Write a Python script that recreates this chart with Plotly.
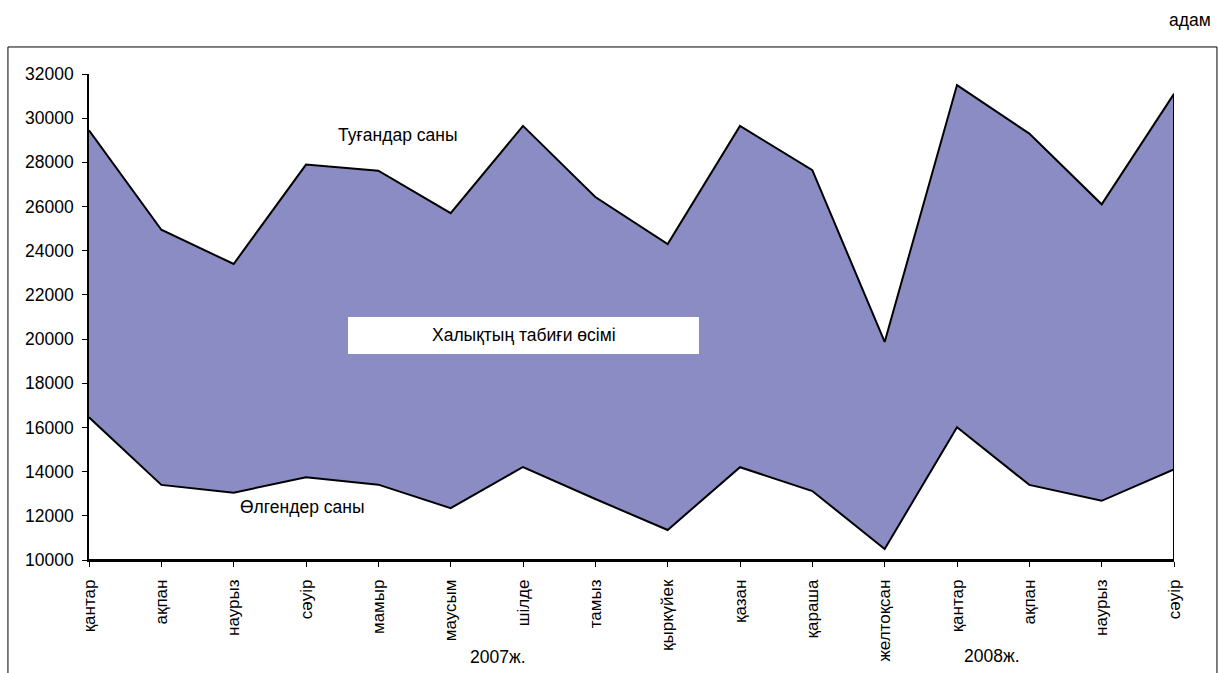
import plotly.graph_objects as go

months = ["қантар", "ақпан", "наурыз", "сәуір", "мамыр", "маусым", "шілде", "тамыз",
          "қыркүйек", "қазан", "қараша", "желтоқсан", "қантар", "ақпан", "наурыз", "сәуір"]
births = [29450, 24950, 23400, 27900, 27620, 25700, 29650, 26430,
          24300, 29650, 27650, 19870, 31500, 29300, 26100, 31100]
deaths = [16460, 13400, 13050, 13740, 13410, 12350, 14210, 12760,
          11360, 14200, 13120, 10500, 16010, 13400, 12680, 14100]
y_ticks = [10000, 12000, 14000, 16000, 18000, 20000, 22000, 24000, 26000, 28000, 30000, 32000]
y_ticktext = ["10000", "12000", "14000", "16000", "18000", "20000", "22000", "24000",
              "26000", "28000", "30000", "32000"]
Y_MIN, Y_MAX = 10000, 32000

FONT = "Liberation Sans, Arial, sans-serif"
FILL = "#8A8CC3"
TXT = 17.5

xs = list(range(len(months)))
poly_x = xs + [xs[-1], xs[0]]

fig = go.Figure()
fig.add_trace(go.Scatter(
    x=poly_x, y=births + [Y_MIN, Y_MIN], mode="lines", fill="toself",
    fillcolor=FILL, line=dict(color="black", width=2), hoverinfo="skip", showlegend=False))
fig.add_trace(go.Scatter(
    x=poly_x, y=deaths + [Y_MIN, Y_MIN], mode="lines", fill="toself",
    fillcolor="white", line=dict(color="black", width=2), hoverinfo="skip", showlegend=False))

fig.update_layout(
    width=1219, height=673,
    margin=dict(l=89, r=45, t=74, b=113),
    paper_bgcolor="white", plot_bgcolor="white",
    font=dict(family=FONT, size=TXT, color="black"),
    xaxis=dict(range=[0, len(months) - 1], tickmode="array", tickvals=xs, ticktext=months,
               tickangle=-90, ticks="outside", ticklen=5, tickcolor="black",
               ticklabelstandoff=6,
               showline=True, linecolor="black", linewidth=1.5, showgrid=False, zeroline=False,
               tickfont=dict(family=FONT, size=17, color="black")),
    yaxis=dict(range=[Y_MIN, Y_MAX], tickmode="array", tickvals=y_ticks, ticktext=y_ticktext,
               ticks="outside", ticklen=5, tickcolor="black",
               ticklabelstandoff=5,
               showline=True, linecolor="black", linewidth=1.5, showgrid=False, zeroline=False,
               tickfont=dict(family=FONT, size=TXT, color="black")),
    shapes=[
        dict(type="rect", xref="paper", yref="paper", x0=-0.0747, x1=1.0396, y0=-0.26, y1=1.0556,
             line=dict(color="black", width=1), fillcolor="rgba(0,0,0,0)", layer="below"),
        dict(type="rect", xref="paper", yref="paper", x0=0.2387, x1=0.5622, y0=0.4239, y1=0.5,
             line=dict(width=0), fillcolor="white", layer="above"),
    ],
    annotations=[
        dict(text="адам", xref="paper", yref="paper", x=1.0359, y=1.111, xanchor="right",
             yanchor="middle", showarrow=False, font=dict(size=TXT)),
        dict(text="Туғандар саны", xref="paper", yref="paper", x=0.285, y=0.8745,
             xanchor="center", yanchor="middle", showarrow=False, font=dict(size=TXT)),
        dict(text="Өлгендер саны", xref="paper", yref="paper", x=0.1963, y=0.109,
             xanchor="center", yanchor="middle", showarrow=False, font=dict(size=TXT)),
        dict(text="Халықтың табиғи өсімі", xref="paper", yref="paper", x=0.4005, y=0.462,
             xanchor="center", yanchor="middle", showarrow=False, font=dict(size=TXT)),
        dict(text="2007ж.", xref="paper", yref="paper", x=0.377, y=-0.1996,
             xanchor="center", yanchor="middle", showarrow=False, font=dict(size=TXT)),
        dict(text="2008ж.", xref="paper", yref="paper", x=0.832, y=-0.1975,
             xanchor="center", yanchor="middle", showarrow=False, font=dict(size=TXT)),
    ],
)

fig.write_html("out.html", config={"displayModeBar": False},
               post_script="document.body.style.margin='0';document.body.style.overflow='hidden';")
